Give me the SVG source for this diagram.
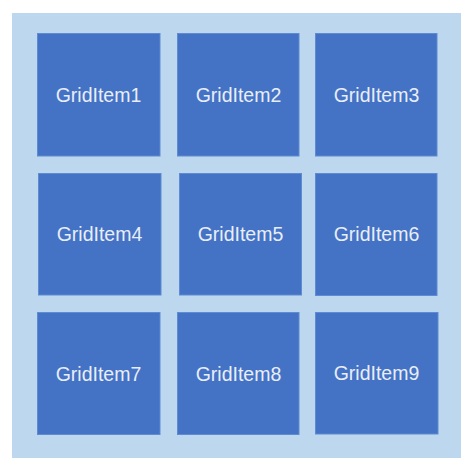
<svg xmlns="http://www.w3.org/2000/svg" width="468" height="463" viewBox="0 0 468 463">
<style>
.bg{fill:#bdd7ee}
.box{fill:#4472c4;stroke:#5f8bd3;stroke-width:1}
.lbl{font-family:"Liberation Sans",Arial,sans-serif;font-size:19.5px;fill:#e8eef8;text-anchor:middle}
</style>
<rect width="468" height="463" fill="#ffffff"/>
<rect class="bg" x="12" y="13" width="449" height="445"/>
<g id="connectors"></g>
<g id="item1"><rect class="box" x="37.5" y="33.5" width="122.5" height="122.5"/><text class="lbl" x="98.5" y="101.7">GridItem1</text></g>
<g id="item2"><rect class="box" x="177.5" y="33.5" width="121.5" height="122.5"/><text class="lbl" x="238.5" y="101.7">GridItem2</text></g>
<g id="item3"><rect class="box" x="315.5" y="33.5" width="121.5" height="122.5"/><text class="lbl" x="376.5" y="101.7">GridItem3</text></g>
<g id="item4"><rect class="box" x="38.5" y="173.5" width="122.5" height="121.5"/><text class="lbl" x="99.5" y="241.2">GridItem4</text></g>
<g id="item5"><rect class="box" x="179.5" y="173.5" width="122" height="121.5"/><text class="lbl" x="240.5" y="241.2">GridItem5</text></g>
<g id="item6"><rect class="box" x="315.5" y="173.5" width="121.5" height="122"/><text class="lbl" x="376.5" y="241.2">GridItem6</text></g>
<g id="item7"><rect class="box" x="37.5" y="312.5" width="122.5" height="122"/><text class="lbl" x="98.5" y="380.5">GridItem7</text></g>
<g id="item8"><rect class="box" x="177.5" y="312.5" width="121.5" height="122"/><text class="lbl" x="238.5" y="380.5">GridItem8</text></g>
<g id="item9"><rect class="box" x="315.5" y="312.5" width="122.5" height="121.5"/><text class="lbl" x="376.5" y="380.2">GridItem9</text></g>
</svg>
